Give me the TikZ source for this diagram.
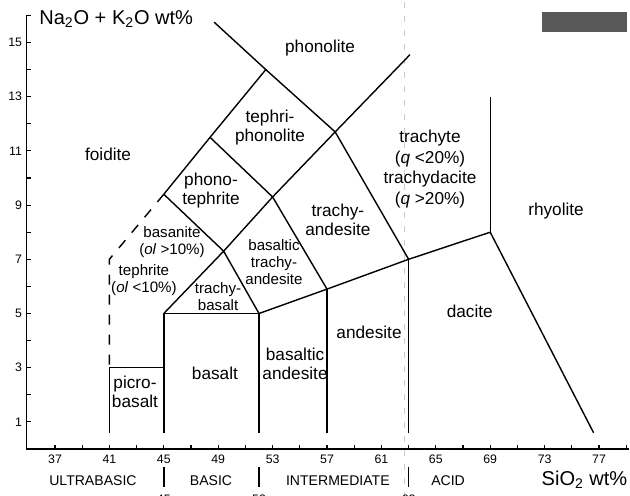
\documentclass[tikz,border=0pt]{standalone}
\usepackage{fontspec}
\setmainfont{Liberation Sans}

\begin{document}
\begin{tikzpicture}[
    x=0.272cm, y=0.542cm,
    % Styles
    bnd/.style={line width=0.8pt},
    dsh/.style={line width=0.8pt, dash pattern=on 0.2cm off 0.2cm},
    axis/.style={line width=0.8pt},
    tick/.style={line width=0.6pt},
    lbl/.style={font=\fontsize{9.8}{10.8}\selectfont, align=center, inner sep=0pt},
    slbl/.style={font=\fontsize{8.6}{9.8}\selectfont, align=center, inner sep=0pt},
    num/.style={font=\fontsize{7}{8}\selectfont, inner sep=0pt},
    grp/.style={font=\fontsize{8}{9}\selectfont, inner sep=0pt, anchor=base},
    ttl/.style={font=\fontsize{11.4}{13}\selectfont, inner sep=0pt}
]
    \useasboundingbox (32.956,-1.734) rectangle (79.279,16.568);

    % --- Scan marks ---
    \fill[black!65] (72.81,15.39) rectangle (79.06,16.13);
    \draw[gray!40, line width=0.5pt, dash pattern=on 1.2mm off 1.6mm] (62.66,16.5) -- (62.66,-1.73);

    % --- AXES ---
    \draw[axis] (34.9,16) -- (34.9,0) -- (79.2,0);
    \foreach \s in {37,39,...,79} \draw[tick] (\s,0) -- ++(0,0.13);
    \foreach \v in {1,...,16} \draw[tick] (34.9,\v) -- ++(0.3,0);
    \foreach \s in {37,41,...,77} \node[num, anchor=base] (xt\s) at (\s,-0.52) {\s};
    \foreach \v in {1,3,...,15} \node[num, anchor=east] (yt\v) at (34.6,\v) {\v};

    \node[ttl, anchor=base west] (ylab) at (35.82,15.68) {Na\textsubscript{2}O + K\textsubscript{2}O wt\%};
    \node[ttl, anchor=base east] (xlab) at (79.1,-1.33) {SiO\textsubscript{2} wt\%};

    % --- SILICA GROUPS ---
    \node[grp] (ultra) at (39.79,-1.33) {ULTRABASIC};
    \node[grp] (basic) at (48.47,-1.33) {BASIC};
    \node[grp] (inter) at (57.8,-1.33) {INTERMEDIATE};
    \node[grp] (acid) at (65.9,-1.33) {ACID};
    \foreach \s in {45,52,63} {
        \draw[bnd] (\s,-0.66) -- (\s,-1.4);
        \node[num, anchor=base] (cut\s) at (\s,-2.0) {\s};
    }

    % --- FIELD CORNERS ---
    \coordinate (p1) at (41,0.6);
    \coordinate (p2) at (41,3);
    \coordinate (p3) at (45,3);
    \coordinate (b1) at (45,0.6);
    \coordinate (b2) at (45,5);
    \coordinate (b3) at (52,5);
    \coordinate (b4) at (52,0.6);
    \coordinate (ba1) at (57,5.9);
    \coordinate (ba2) at (57,0.6);
    \coordinate (an1) at (63,7);
    \coordinate (an2) at (63,0.6);
    \coordinate (da1) at (69,8);
    \coordinate (da2) at (76.6,0.6);
    \coordinate (rh1) at (69,13);
    \coordinate (tb1) at (49.4,7.3);
    \coordinate (bta1) at (53,9.3);
    \coordinate (ta1) at (57.6,11.7);
    \coordinate (tr1) at (63.1,14.55);
    \coordinate (pt1) at (45,9.4);
    \coordinate (tp1) at (48.4,11.5);
    \coordinate (tp2) at (52.5,14);
    \coordinate (ph1) at (48.7,15.75);
    \coordinate (te1) at (41,7);

    % --- BOUNDARIES ---
    \draw[bnd] (p1) -- (p2) -- (p3);
    \draw[bnd] (b1) -- (b2) -- (b3) -- (b4);
    \draw[bnd] (b3) -- (ba1) -- (an1) -- (da1) -- (da2);
    \draw[bnd] (ba1) -- (ba2);
    \draw[bnd] (an1) -- (an2);
    \draw[bnd] (da1) -- (rh1);
    \draw[bnd] (b2) -- (tb1) -- (b3);
    \draw[bnd] (tb1) -- (bta1) -- (ba1);
    \draw[bnd] (bta1) -- (ta1) -- (an1);
    \draw[bnd] (ta1) -- (tr1);
    \draw[bnd] (pt1) -- (tb1);
    \draw[bnd] (pt1) -- (tp1) -- (tp2) -- (ph1);
    \draw[bnd] (tp1) -- (bta1);
    \draw[bnd] (tp2) -- (ta1);
    \draw[dsh] (pt1) -- (te1) -- (p2);

    % --- FIELD NAMES ---
    \node[lbl] (phon) at (56.49,14.80) {phonolite};
    \node[lbl] (tphon) at (52.81,11.85) {tephri-\\phonolite};
    \node[lbl] (foid) at (40.9,10.89) {foidite};
    \node[lbl] (ptep) at (48.47,9.52) {phono-\\tephrite};
    \node[slbl] (basan) at (45.6,7.64) {basanite\\(\textit{ol} >10\%)};
    \node[slbl] (teph) at (43.54,6.24) {tephrite\\(\textit{ol} <10\%)};
    \node[slbl] (trb) at (48.99,5.61) {trachy-\\basalt};
    \node[slbl] (btra) at (53.1,6.9) {basaltic\\trachy-\\andesite};
    \node[lbl] (tra) at (57.8,8.45) {trachy-\\andesite};
    \node[lbl, font=\fontsize{9.8}{11.8}\selectfont] (trach) at (64.57,10.33) {trachyte\\(\textit{q} <20\%)\\trachydacite\\(\textit{q} >20\%)};
    \node[lbl] (rhy) at (73.84,8.78) {rhyolite};
    \node[lbl] (dac) at (67.5,5.09) {dacite};
    \node[lbl] (and) at (60.09,4.32) {andesite};
    \node[lbl] (band) at (54.65,3.14) {basaltic\\andesite};
    \node[lbl] (bas) at (48.76,2.80) {basalt};
    \node[lbl] (picro) at (42.88,2.10) {picro-\\basalt};

\end{tikzpicture}
\end{document}
